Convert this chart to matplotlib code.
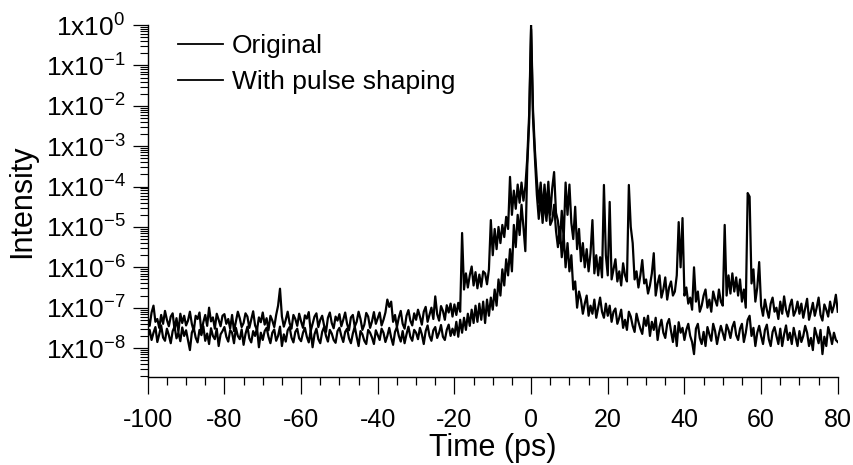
import numpy as np
import matplotlib
matplotlib.use("Agg")
import matplotlib.pyplot as plt
from matplotlib.ticker import LogLocator, FuncFormatter, MultipleLocator, NullFormatter

plt.rcParams['font.family'] = ['Liberation Sans', 'DejaVu Sans']
plt.rcParams['mathtext.default'] = 'regular'
plt.rcParams['axes.unicode_minus'] = False

# time axis: -100 ps to 80 ps, 0.5 ps sampling
time_start, time_stop, time_step = -100.0, 80.0, 0.5

# log10(intensity), 20 samples per 10 ps row
original_log = [
    # -100
    -7.25, -7.45, -7.12, -6.95, -7.35, -7.28, -7.50, -7.18, -7.40, -7.08, -7.30, -7.46, -7.22, -7.14, -7.55, -7.26, -7.60, -7.15, -7.38, -7.20,
    # -90
    -7.44, -7.32, -7.10, -7.40, -7.58, -7.20, -7.28, -7.12, -7.62, -7.36, -7.18, -7.45, -7.00, -7.34, -7.24, -7.52, -7.15, -7.30, -7.46, -7.20,
    # -80
    -7.16, -7.40, -7.28, -7.52, -7.18, -7.58, -7.34, -7.10, -7.26, -7.48, -7.38, -7.14, -7.22, -7.50, -7.30, -7.09, -7.44, -7.55, -7.24, -7.36,
    # -70
    -7.12, -7.42, -7.26, -7.56, -7.20, -7.32, -7.48, -7.18, -6.95, -6.53, -7.22, -7.47, -7.30, -7.10, -7.38, -7.52, -7.18, -7.28, -7.45, -7.15,
    # -60
    -7.34, -7.50, -7.19, -7.27, -7.11, -7.58, -7.40, -7.22, -7.14, -7.48, -7.30, -7.20, -7.44, -7.60, -7.25, -7.12, -7.38, -7.51, -7.22, -7.32,
    # -50
    -7.16, -7.46, -7.30, -7.12, -7.40, -7.56, -7.24, -7.18, -7.47, -7.35, -7.10, -7.28, -7.55, -7.42, -7.13, -7.22, -7.50, -7.34, -7.11, -7.40,
    # -40
    -7.26, -7.12, -7.44, -7.30, -7.12, -6.80, -6.98, -6.85, -7.35, -7.18, -7.48, -7.24, -7.08, -7.40, -7.52, -7.20, -7.06, -7.32, -7.44, -7.14,
    # -30
    -7.30, -7.05, -7.22, -7.42, -7.10, -6.98, -7.35, -7.18, -7.00, -7.28, -6.72, -7.16, -7.32, -6.96, -7.08, -7.30, -6.94, -7.12, -6.90, -7.22,
    # -20
    -6.92, -7.18, -6.88, -7.10, -5.15, -6.55, -6.15, -6.50, -6.20, -5.98, -6.45, -6.12, -6.52, -6.18, -6.48, -6.10, -6.15, -6.42, -6.05, -4.83,
    # -10
    -5.70, -5.05, -5.55, -5.00, -5.40, -4.95, -5.25, -4.75, -5.05, -3.76, -4.70, -4.10, -4.55, -3.95, -4.40, -3.90, -4.35, -4.00, -3.30, -2.20,
    # 0
    0.00, -2.10, -3.10, -3.85, -4.40, -3.90, -4.60, -3.95, -4.55, -3.88, -4.70, -4.05, -3.64, -4.65, -4.85, -5.40, -4.60, -5.30, -3.90, -4.70,
    # 10
    -3.95, -4.90, -5.30, -4.50, -5.55, -5.05, -5.85, -5.40, -6.00, -5.55, -6.10, -5.65, -4.83, -6.15, -5.70, -6.20, -5.75, -6.25, -3.96, -5.70,
    # 20
    -6.20, -4.38, -6.30, -6.05, -5.80, -6.35, -6.10, -6.45, -5.90, -6.20, -6.35, -3.96, -5.00, -5.40, -6.30, -6.10, -6.50, -6.20, -5.82, -6.40,
    # 30
    -6.30, -6.65, -6.45, -6.15, -5.65, -6.70, -6.40, -6.20, -6.75, -6.55, -6.25, -6.80, -6.50, -6.35, -6.70, -6.60, -6.20, -4.88, -6.00, -4.78,
    # 40
    -6.70, -6.50, -6.90, -6.75, -7.05, -6.00, -6.85, -6.60, -7.10, -6.95, -6.70, -6.55, -7.00, -6.80, -7.10, -6.60, -6.80, -6.95, -6.55, -6.85,
    # 50
    -6.95, -4.95, -6.70, -6.20, -6.65, -6.15, -6.60, -6.25, -6.70, -6.30, -6.85, -6.55, -7.00, -4.16, -4.25, -6.40, -6.05, -6.85, -6.50, -5.87,
    # 60
    -6.95, -7.20, -6.80, -7.05, -7.25, -6.90, -6.75, -7.10, -7.00, -7.28, -6.85, -7.15, -6.72, -7.05, -7.22, -6.95, -6.80, -7.20, -7.08, -6.85,
    # 70
    -7.15, -6.90, -7.25, -7.02, -6.78, -7.30, -7.10, -6.88, -7.20, -7.00, -6.75, -7.18, -7.32, -6.92, -7.05, -7.22, -6.85, -7.12, -6.95, -6.68,
    # 80
    -7.10,
]

shaped_log = [
    # -100
    -7.72, -7.55, -7.80, -7.62, -7.48, -7.85, -7.66, -7.44, -7.74, -7.82, -7.52, -7.68, -7.88, -7.58, -7.47, -7.76, -7.62, -7.83, -7.49, -7.70,
    # -90
    -7.56, -7.80, -8.05, -7.62, -7.50, -7.74, -7.86, -7.55, -7.68, -7.46, -7.82, -7.64, -7.90, -7.51, -7.70, -7.78, -7.52, -7.95, -7.66, -7.58,
    # -80
    -7.48, -7.72, -7.84, -7.56, -7.62, -7.88, -7.50, -7.70, -7.78, -7.54, -7.92, -7.65, -7.47, -7.76, -7.86, -7.58, -7.70, -7.50, -7.98, -7.62,
    # -70
    -7.80, -7.58, -7.50, -7.72, -7.88, -7.62, -7.54, -7.82, -7.70, -7.47, -7.95, -7.66, -7.84, -7.56, -7.48, -7.74, -7.86, -7.60, -7.52, -7.76,
    # -60
    -7.83, -7.62, -7.50, -7.72, -7.86, -7.56, -7.98, -7.66, -7.52, -7.78, -7.88, -7.60, -7.48, -7.70, -7.84, -7.55, -7.64, -7.80, -7.87, -7.58,
    # -50
    -7.50, -7.70, -7.85, -7.60, -7.52, -7.76, -7.88, -7.64, -7.47, -7.72, -7.95, -7.58, -7.66, -7.82, -7.90, -7.55, -7.62, -7.74, -7.90, -7.56,
    # -40
    -7.68, -7.80, -7.52, -7.62, -7.85, -7.70, -7.50, -7.74, -7.92, -7.60, -7.48, -7.70, -7.84, -7.58, -7.88, -7.66, -7.47, -7.72, -7.82, -7.55,
    # -30
    -7.62, -7.78, -7.50, -7.66, -7.90, -7.58, -7.44, -7.70, -7.82, -7.56, -7.48, -7.75, -7.62, -7.43, -7.72, -7.80, -7.55, -7.42, -7.70, -7.52,
    # -20
    -7.68, -7.35, -7.72, -7.30, -7.62, -7.25, -7.55, -7.15, -7.45, -7.05, -7.38, -6.95, -7.35, -6.90, -7.30, -6.85, -7.38, -6.80, -7.20, -6.75,
    # -10
    -7.05, -6.55, -6.95, -6.30, -6.70, -6.05, -6.45, -5.80, -6.20, -5.55, -6.10, -4.95, -5.50, -4.70, -5.20, -4.45, -5.00, -5.60, -3.50, -2.40,
    # 0
    -0.10, -2.30, -3.30, -4.20, -4.80, -4.25, -4.90, -4.35, -4.85, -4.30, -4.95, -4.83, -4.45, -5.10, -5.50, -5.00, -5.75, -5.20, -6.00, -5.40,
    # 10
    -6.10, -5.70, -6.55, -6.35, -7.00, -6.60, -6.80, -7.15, -6.90, -6.70, -7.20, -6.95, -7.15, -6.80, -7.25, -7.00, -6.75, -7.10, -7.25, -6.90,
    # 20
    -7.20, -6.95, -7.35, -7.10, -7.02, -7.40, -7.25, -7.05, -7.50, -7.30, -7.55, -7.10, -7.22, -7.45, -7.60, -7.15, -7.35, -7.52, -7.65, -7.25,
    # 30
    -7.45, -7.20, -7.70, -7.35, -7.55, -7.25, -7.80, -7.48, -7.30, -7.62, -7.75, -7.40, -7.28, -7.58, -7.85, -7.45, -7.95, -7.36, -7.62, -7.50,
    # 40
    -7.80, -7.55, -7.40, -7.70, -7.85, -8.15, -7.52, -7.40, -7.75, -7.90, -7.60, -7.95, -7.48, -7.66, -7.82, -7.40, -7.58, -7.90, -7.65, -7.45,
    # 50
    -7.62, -7.80, -7.42, -7.55, -7.75, -7.48, -7.35, -7.68, -7.80, -7.52, -7.40, -7.85, -7.62, -7.30, -7.20, -7.70, -7.50, -7.95, -7.62, -7.45,
    # 60
    -7.70, -7.90, -7.55, -7.42, -7.78, -7.95, -7.60, -7.48, -7.70, -7.90, -7.52, -7.95, -7.66, -7.44, -7.80, -7.62, -7.90, -7.50, -7.72, -7.95,
    # 70
    -7.58, -7.85, -7.70, -7.45, -7.62, -7.95, -7.75, -8.05, -7.50, -7.68, -7.88, -7.55, -8.15, -7.72, -7.95, -7.48, -7.66, -7.90, -7.62, -7.80,
    # 80
    -7.85,
]

series_labels = ["Original", "With pulse shaping"]
y_decades = [0, -1, -2, -3, -4, -5, -6, -7, -8]
x_ticks = [-100, -80, -60, -40, -20, 0, 20, 40, 60, 80]

time = np.arange(time_start, time_stop + time_step / 2, time_step)
original = 10.0 ** np.array(original_log)
shaped = 10.0 ** np.array(shaped_log)

fig = plt.figure(figsize=(8.54, 4.65), dpi=100)
ax = fig.add_axes([0.173, 0.189, 0.808, 0.757])

ax.plot(time, original, color='black', lw=1.6, label=series_labels[0])
ax.plot(time, shaped, color='black', lw=1.6, label=series_labels[1])

ax.set_yscale('log')
ax.set_ylim(10 ** -8.72, 1.0)
ax.set_xlim(-100, 80)

ax.set_yticks([10.0 ** d for d in y_decades])
ax.yaxis.set_major_formatter(FuncFormatter(lambda v, p: r'1x10$^{%d}$' % int(round(np.log10(v)))))
ax.yaxis.set_minor_locator(LogLocator(base=10, subs=np.arange(2, 10), numticks=50))
ax.yaxis.set_minor_formatter(NullFormatter())
ax.set_xticks(x_ticks)
ax.xaxis.set_minor_locator(MultipleLocator(5))

for s in ['top', 'right']:
    ax.spines[s].set_visible(False)
for s in ['left', 'bottom']:
    ax.spines[s].set_linewidth(1.0)

ax.tick_params(axis='x', which='major', direction='out', length=12, width=0.9, labelsize=18, pad=10)
ax.tick_params(axis='x', which='minor', direction='out', length=6, width=0.9)
ax.tick_params(axis='y', which='major', direction='out', length=11, width=0.9, labelsize=19, pad=5)
ax.tick_params(axis='y', which='minor', direction='out', length=6, width=0.8)

ax.set_xlabel('Time (ps)', fontsize=22)
ax.xaxis.set_label_coords(0.5, -0.160)
ax.set_ylabel('Intensity', fontsize=22, labelpad=6)

leg = ax.legend(loc='upper left', bbox_to_anchor=(0.044, 0.975), frameon=False, fontsize=19,
                handlelength=1.7, handletextpad=0.35, labelspacing=0.45, borderpad=0.0, borderaxespad=0.0)
for h in leg.get_lines():
    h.set_linewidth(1.3)

fig.savefig('out.png', dpi=100)
